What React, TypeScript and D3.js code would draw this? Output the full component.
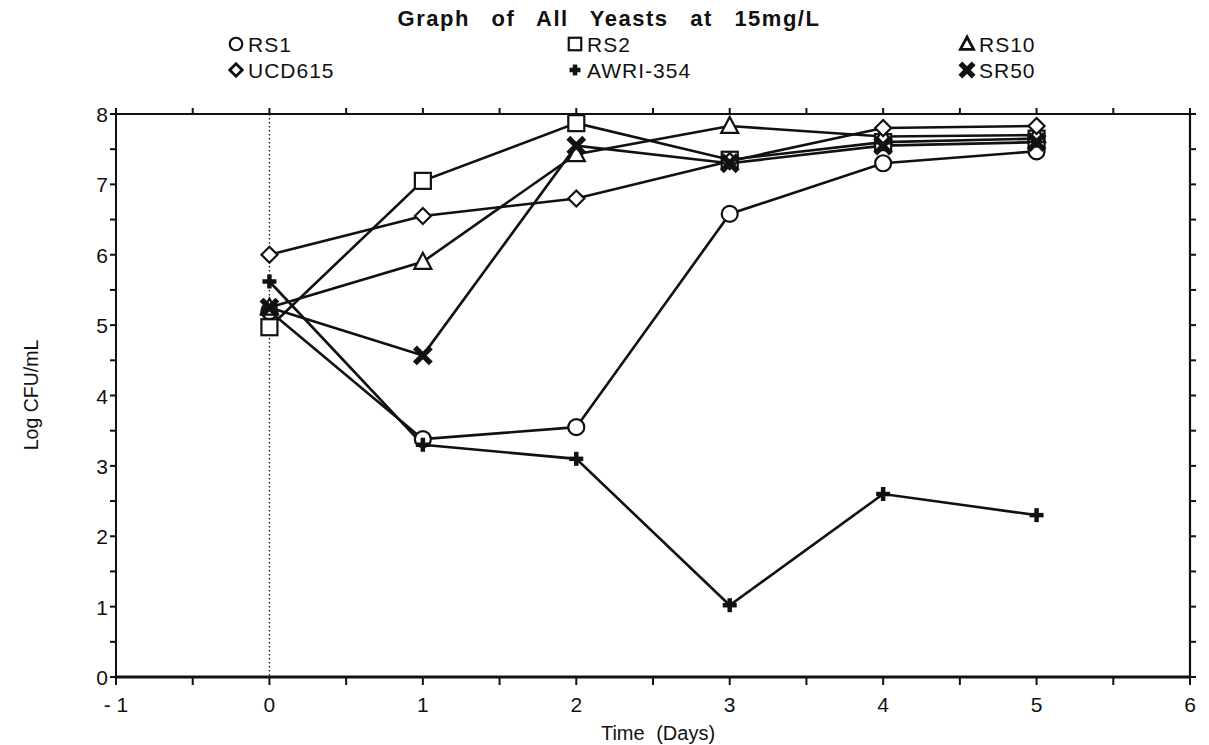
import React from "react";
import * as d3 from "d3";

// Days sampled
const days = [0, 1, 2, 3, 4, 5];

// Log CFU/mL per strain
const rs1 = [5.2, 3.38, 3.55, 6.58, 7.3, 7.47];
const rs2 = [4.97, 7.05, 7.87, 7.35, 7.6, 7.65];
const rs10 = [5.25, 5.9, 7.43, 7.83, 7.68, 7.7];
const ucd615 = [6.0, 6.55, 6.8, 7.33, 7.8, 7.83];
const awri354 = [5.62, 3.3, 3.1, 1.02, 2.6, 2.3];
const sr50 = [5.25, 4.57, 7.55, 7.3, 7.55, 7.6];

const seriesNames = ["RS1", "RS2", "RS10", "UCD615", "AWRI-354", "SR50"];
const seriesMarkers = ["circle", "square", "triangle", "diamond", "plus", "cross"];
const seriesValues = [rs1, rs2, rs10, ucd615, awri354, sr50];

const xTicks = [-1, 0, 1, 2, 3, 4, 5, 6];
const xTickLabels = ["- 1", "0", "1", "2", "3", "4", "5", "6"];
const yTicks = [0, 1, 2, 3, 4, 5, 6, 7, 8];

const W = 1209;
const H = 745;
const left = 116;
const right = 1190;
const top = 114;
const bottom = 677;

const FONT = "'Liberation Sans', Arial, Helvetica, sans-serif";

function Marker({ kind, x, y, s = 1 }: { kind: string; x: number; y: number; s?: number }) {
  const sw = 2.2;
  switch (kind) {
    case "circle":
      return <circle cx={x} cy={y} r={8 * s} fill="#fff" stroke="#111" strokeWidth={sw} />;
    case "square":
      return (
        <rect x={x - 8 * s} y={y - 8 * s} width={16 * s} height={16 * s} fill="#fff" stroke="#111" strokeWidth={sw} />
      );
    case "triangle":
      return (
        <path
          d={`M${x},${y - 9 * s}L${x + 8.5 * s},${y + 7 * s}L${x - 8.5 * s},${y + 7 * s}Z`}
          fill="#fff"
          stroke="#111"
          strokeWidth={sw + (s < 1 ? 0.6 : 0)}
        />
      );
    case "diamond":
      return (
        <path
          d={`M${x},${y - 8 * s}L${x + 8 * s},${y}L${x},${y + 8 * s}L${x - 8 * s},${y}Z`}
          fill="#fff"
          stroke="#111"
          strokeWidth={sw + (s < 1 ? 0.6 : 0)}
        />
      );
    case "plus":
      return (
        <g stroke="#111" strokeWidth={4.5}>
          <line x1={x - 7 * s} x2={x + 7 * s} y1={y} y2={y} />
          <line x1={x} x2={x} y1={y - 7 * s} y2={y + 7 * s} />
        </g>
      );
    case "cross":
      return (
        <g stroke="#111" strokeWidth={5.5} strokeLinecap="square">
          <line x1={x - 6 * s} x2={x + 6 * s} y1={y - 6 * s} y2={y + 6 * s} />
          <line x1={x - 6 * s} x2={x + 6 * s} y1={y + 6 * s} y2={y - 6 * s} />
        </g>
      );
    default:
      return null;
  }
}

export default function App() {
  const x = d3.scaleLinear().domain([-1, 6]).range([left, right]);
  const y = d3.scaleLinear().domain([0, 8]).range([bottom, top]);
  const line = d3
    .line<number>()
    .x((_, i) => x(days[i]))
    .y((v) => y(v));

  const xMinor = d3.range(-1, 6.01, 0.5);
  const yMinor = d3.range(0, 8.01, 0.5);

  const legendCols = [236, 575, 967];
  const legendRows = [44, 70];

  return (
    <svg width={W} height={H} style={{ position: "absolute", left: 0, top: 0, background: "#fff" }}>
      <rect width={W} height={H} fill="#fff" />
      {/* title */}
      <text
        x={609}
        y={26}
        textAnchor="middle"
        fontFamily={FONT}
        fontWeight="bold"
        fontSize={22}
        wordSpacing={14}
        letterSpacing={1.5}
        fill="#111"
      >
        Graph of All Yeasts at 15mg/L
      </text>

      {/* legend */}
      {seriesNames.map((name, i) => {
        const cx = legendCols[i % 3];
        const cy = legendRows[Math.floor(i / 3)];
        return (
          <g key={name}>
            <Marker kind={seriesMarkers[i]} x={cx} y={cy} s={0.78} />
            <text x={cx + 12} y={cy + 8} fontFamily={FONT} fontSize={21} letterSpacing={1} fill="#111">
              {name}
            </text>
          </g>
        );
      })}

      {/* dotted day-0 reference */}
      <line
        x1={x(0)}
        x2={x(0)}
        y1={top}
        y2={bottom}
        stroke="#111"
        strokeWidth={1.3}
        strokeDasharray="1.5,2.5"
      />

      {/* frame */}
      <g stroke="#111" fill="none">
        <line x1={left} x2={right} y1={top} y2={top} strokeWidth={2} />
        <line x1={left} x2={left} y1={top} y2={bottom} strokeWidth={2} />
        <line x1={right} x2={right} y1={top} y2={bottom} strokeWidth={2.2} />
        <line x1={left} x2={right + 1} y1={bottom} y2={bottom} strokeWidth={3} />
      </g>

      {/* ticks */}
      <g stroke="#111" strokeWidth={2}>
        {xMinor.map((t) => (
          <g key={"xt" + t}>
            <line x1={x(t)} x2={x(t)} y1={bottom} y2={bottom + 8} />
            <line x1={x(t)} x2={x(t)} y1={top} y2={top - 6} />
          </g>
        ))}
        {yMinor.map((t) => (
          <g key={"yt" + t}>
            <line x1={left} x2={left - 6} y1={y(t)} y2={y(t)} />
            <line x1={right} x2={right + 6} y1={y(t)} y2={y(t)} />
          </g>
        ))}
      </g>

      {/* tick labels */}
      <g fontFamily={FONT} fontSize={21} fill="#111">
        {xTicks.map((t, i) => (
          <text key={"xl" + t} x={x(t)} y={712} textAnchor="middle">
            {xTickLabels[i]}
          </text>
        ))}
        {yTicks.map((t) => (
          <text key={"yl" + t} x={108} y={y(t) + 8} textAnchor="end">
            {t}
          </text>
        ))}
      </g>

      {/* axis titles */}
      <text
        x={658}
        y={740}
        textAnchor="middle"
        fontFamily={FONT}
        fontSize={20}
        wordSpacing={6}
        fill="#111"
      >
        Time (Days)
      </text>
      <text
        transform={`translate(38,395) rotate(-90)`}
        textAnchor="middle"
        fontFamily={FONT}
        fontSize={19.5}
        fill="#111"
      >
        Log CFU/mL
      </text>

      {/* series lines */}
      <g fill="none" stroke="#111" strokeWidth={2.6}>
        {seriesValues.map((vals, i) => (
          <path key={"l" + i} d={line(vals) || ""} />
        ))}
      </g>

      {/* series markers */}
      {seriesValues.map((vals, i) =>
        vals.map((v, j) => (
          <Marker key={`m${i}-${j}`} kind={seriesMarkers[i]} x={x(days[j])} y={y(v)} />
        ))
      )}
    </svg>
  );
}
